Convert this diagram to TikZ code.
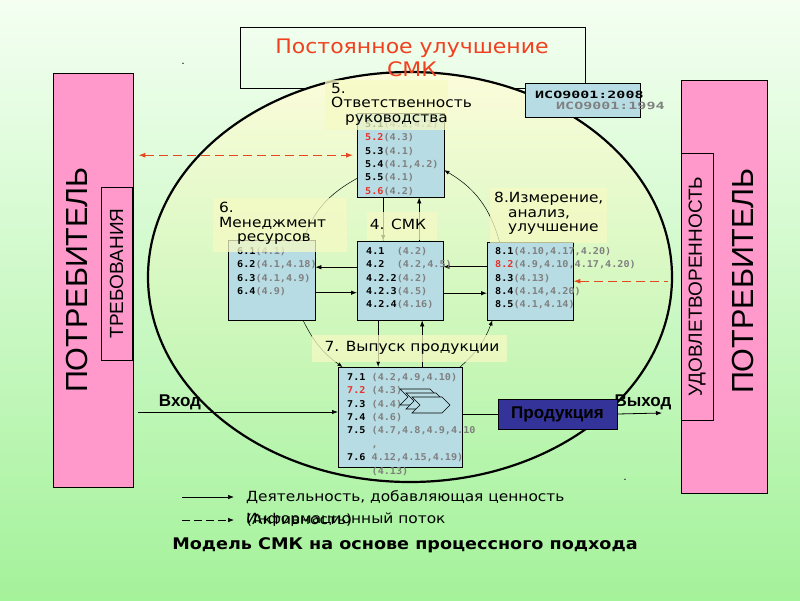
\documentclass[tikz,border=0pt]{standalone}
\usepackage{fontspec}
\setmainfont{DejaVu Sans}[FakeStretch=1.1]
\newfontfamily\boxfont{DejaVu Sans Mono}[FakeStretch=1.08]
\newfontfamily\isofont{DejaVu Sans Mono}[FakeStretch=1.5]
\newfontfamily\arialfont{Liberation Sans}
\usepackage{tikz}
\usetikzlibrary{positioning, arrows.meta}

\definecolor{bgtop}{RGB}{244,255,242}
\definecolor{bgbot}{RGB}{164,242,154}
\definecolor{elltop}{RGB}{252,252,218}
\definecolor{boxblue}{RGB}{184,220,228}
\definecolor{pinkbox}{RGB}{255,153,204}
\definecolor{tagbg}{RGB}{246,250,196}
\definecolor{flowred}{RGB}{232,72,32}
\definecolor{numred}{RGB}{230,50,40}
\definecolor{refgrey}{RGB}{128,128,128}
\definecolor{prodblue}{RGB}{51,51,153}
\definecolor{titlered}{RGB}{240,64,32}

\newcommand{\qnum}[1]{\textbf{#1}}
\newcommand{\qred}[1]{\textbf{\textcolor{numred}{#1}}}
\newcommand{\qref}[1]{\textbf{\textcolor{refgrey}{#1}}}

\tikzset{
  proc/.style={draw, fill=boxblue, anchor=north west, inner sep=0pt},
  lst/.style={inner sep=0pt, align=left, font=\boxfont\fontsize{9.4}{13.4}\selectfont},
  tag/.style={fill=tagbg, fill opacity=0.75, anchor=north west, inner sep=0pt},
  tagtext/.style={inner sep=0pt, align=left, font=\fontsize{14}{14.5}\selectfont},
  flow/.style={-{Latex[length=6pt,width=4.5pt]}, line width=0.8pt},
  cyc/.style={-{Latex[length=5pt,width=4pt]}, line width=0.5pt},
  info/.style={flowred, line width=1pt, dash pattern=on 9pt off 5pt},
  cust/.style={draw, fill=pinkbox, inner sep=0pt},
  big/.style={rotate=90, inner sep=0pt, font=\arialfont\fontsize{30.5}{30.5}\selectfont},
  side/.style={cust, rotate=90, font=\arialfont\fontsize{19}{19}\selectfont},
  chev/.style={draw, fill=boxblue, line width=0.6pt},
}

\begin{document}
\begin{tikzpicture}[x=1pt, y=-1pt]
  % background
  \shade[top color=bgtop, bottom color=bgbot] (0,0) rectangle (800,600);
  \useasboundingbox (0,0) rectangle (800,600);

  % title box and the big cycle
  \node[draw, anchor=north west, minimum width=345pt, minimum height=61pt] (tbox) at (240,27) {};
  \draw[line width=2.2pt, top color=elltop, bottom color=bgbot!85!white] (410,277) ellipse [x radius=262pt, y radius=205pt];
  \node[text=titlered, align=center, font=\fontsize{20}{23}\selectfont] (ttl) at (412,58) {Постоянное улучшение\\СМК};
  \node[inner sep=0pt] (d1) at (183,64) {.};
  \node[inner sep=0pt] (d2) at (625,480) {.};

  % customers
  \node[cust, anchor=north west, minimum width=80pt, minimum height=414pt] (lp) at (53,73) {};
  \node[big] (lpt) at (77,280) {ПОТРЕБИТЕЛЬ};
  \node[side, minimum width=173pt, minimum height=31pt] (req) at (116.5,273.5) {ТРЕБОВАНИЯ};
  \node[cust, anchor=north west, minimum width=86pt, minimum height=413pt] (rp) at (681,80) {};
  \node[side, minimum width=267pt, minimum height=32pt] (sat) at (697,286.5) {УДОВЛЕТВОРЕННОСТЬ};
  \node[big] (rpt) at (743,281) {ПОТРЕБИТЕЛЬ};

  % processes
  \node[proc, minimum width=87pt, minimum height=84pt] (b5) at (357,113) {};
  \node[proc, minimum width=87pt, minimum height=80pt] (b6) at (228,240) {};
  \node[proc, minimum width=86pt, minimum height=79pt] (b4) at (357,241) {};
  \node[proc, minimum width=86pt, minimum height=78pt] (b8) at (487,242) {};
  \node[proc, minimum width=124pt, minimum height=100pt] (b7) at (338,367) {};

  % inner cycle
  \draw[cyc] (b5.208) to[bend right=20] (b6.52);
  \draw[cyc] (b6.308) to[bend right=14] (b7.139);
  \draw[cyc] (b7.40) to[bend right=14] (b8.226);
  \draw[cyc] (b8.128) to[bend right=22] (b5.341);

  % links between processes
  \draw[flow] ([xshift=-17.5pt]b5.south) -- ([xshift=-17.5pt]b5.south |- b4.north);
  \draw[flow] ([xshift=19pt]b4.north) -- ([xshift=19pt]b4.north |- b5.south);
  \draw[flow] ([yshift=13.5pt]b4.west) -- ([yshift=13.5pt]b4.west -| b6.east);
  \draw[flow] ([yshift=-12.5pt]b6.east) -- ([yshift=-12.5pt]b6.east -| b4.west);
  \draw[flow] ([yshift=14.5pt]b8.west) -- ([yshift=14.5pt]b8.west -| b4.east);
  \draw[flow] ([yshift=-12.5pt]b4.east) -- ([yshift=-12.5pt]b4.east -| b8.west);
  \draw[flow] ([xshift=-22pt]b4.south) -- ([xshift=-22pt]b4.south |- b7.north);
  \draw[flow] ([xshift=22pt]b7.north) -- ([xshift=22pt]b7.north |- b4.south);

  % lists
  \node[lst, below right=7pt and 8pt of b5.north west] (t5) {\qnum{5.1}\qref{(4.1,4.2)}\\\qred{5.2}\qref{(4.3)}\\\qnum{5.3}\qref{(4.1)}\\\qnum{5.4}\qref{(4.1,4.2)}\\\qnum{5.5}\qref{(4.1)}\\\qred{5.6}\qref{(4.2)}};
  \node[lst, below right=7pt and 9pt of b6.north west] (t6) {\qnum{6.1}\qref{(4.1)}\\\qnum{6.2}\qref{(4.1,4.18)}\\\qnum{6.3}\qref{(4.1,4.9)}\\\qnum{6.4}\qref{(4.9)}};
  \node[lst, below right=6pt and 9pt of b4.north west] (t4) {\qnum{4.1}~~\qref{(4.2)}\\\qnum{4.2}~~\qref{(4.2,4.5)}\\\qnum{4.2.2}\qref{(4.2)}\\\qnum{4.2.3}\qref{(4.5)}\\\qnum{4.2.4}\qref{(4.16)}};
  \node[lst, below right=5pt and 8pt of b8.north west] (t8) {\qnum{8.1}\qref{(4.10,4.17,4.20)}\\\qred{8.2}\qref{(4.9,4.10,4.17,4.20)}\\\qnum{8.3}\qref{(4.13)}\\\qnum{8.4}\qref{(4.14,4.20)}\\\qnum{8.5}\qref{(4.1,4.14)}};
  \node[lst, below right=6pt and 9pt of b7.north west] (t7) {\qnum{7.1}~\qref{(4.2,4.9,4.10)}\\\qred{7.2}~\qref{(4.3)}\\\qnum{7.3}~\qref{(4.4)}\\\qnum{7.4}~\qref{(4.6)}\\\qnum{7.5}~\qref{(4.7,4.8,4.9,4.10}\\\hphantom{\qnum{7.5}~}\qref{,}\\\qnum{7.6}~\qref{4.12,4.15,4.19)}\\\hphantom{\qnum{7.6}~}\qref{(4.13)}};
  \foreach \i in {0,1,2}
    \draw[chev, shift={(6*\i,4*\i)}] (400,389) -- ++(30,0) -- ++(8,8) -- ++(-8,8) -- ++(-30,0) -- ++(8,-8) -- cycle;

  % process titles
  \node[tag, minimum width=123pt, minimum height=50pt] (g5) at (325,80) {};
  \node[tagtext, anchor=north west] (l5) at (331,83) {5.\\Ответственность\\\hspace*{14pt}руководства};
  \node[tag, minimum width=134pt, minimum height=54pt] (g6) at (213,198) {};
  \node[tagtext, anchor=north west] (l6) at (219,202) {6.\\Менеджмент\\\hspace*{18pt}ресурсов};
  \node[tag, minimum width=70pt, minimum height=28pt] (g4) at (367,212) {};
  \node[tagtext] (l4) at (398,224) {4. СМК};
  \node[tag, minimum width=117pt, minimum height=55pt] (g8) at (490,188) {};
  \node[tagtext, anchor=north west] (l8) at (494,192) {8.Измерение,\\\hspace*{14pt}анализ,\\\hspace*{14pt}улучшение};
  \node[tag, minimum width=195pt, minimum height=27pt] (g7) at (312,335) {};
  \node[tagtext] (l7) at (412,348) {7. Выпуск продукции};

  % standard
  \node[proc, minimum width=115pt, minimum height=34pt] (iso) at (525,83) {};
  \node[inner sep=0pt, anchor=west, align=left, font=\isofont\bfseries\fontsize{10}{11.5}\selectfont] (isot) at (535,100.5) {ИСО9001:2008\\\hspace*{21pt}\textcolor{refgrey}{ИСО9001:1994}};

  % information flows
  \draw[info, {Latex[length=7pt,width=5pt]}-{Latex[length=7pt,width=5pt]}, shorten <=5pt, shorten >=4pt] (b5.west -| lp.east) -- (b5.west);
  \draw[info, {Latex[length=7pt,width=5pt]}-, shorten >=13pt] (b8.east) -- (b8.east -| rp.west);

  % input and output
  \coordinate (in) at (138,412);
  \coordinate (out) at (662,413);
  \node[font=\arialfont\bfseries\fontsize{17}{17}\selectfont] (lin) at (180,402) {Вход};
  \node[font=\arialfont\bfseries\fontsize{17}{17}\selectfont] (lout) at (643,402) {Выход};
  \node[draw, fill=prodblue, minimum width=119pt, minimum height=30pt, font=\arialfont\bfseries\fontsize{17}{17}\selectfont] (prod) at (557.5,414) {Продукция};
  \draw[flow] (in) -- (in -| b7.west);
  \draw[line width=0.8pt] (b7.east |- prod.west) -- (prod.west);
  \draw[flow] (prod.east) -- (out);

  % legend
  \coordinate (la1) at (182,497);
  \coordinate (la2) at (234,497);
  \coordinate (lb1) at (182,520);
  \coordinate (lb2) at (234,520);
  \draw[flow, line width=0.6pt] (la1) -- (la2);
  \draw[flow, line width=0.6pt, dash pattern=on 8pt off 4pt] (lb1) -- (lb2);
  \node[anchor=west, inner sep=0pt, font=\fontsize{14}{14}\selectfont] (lg1) at (246,497) {Деятельность, добавляющая ценность};
  \node[anchor=west, inner sep=0pt, font=\fontsize{14}{14}\selectfont] (lg2) at (246,520) {Информационный поток};
  \node[anchor=west, inner sep=0pt, font=\fontsize{14}{14}\selectfont] (lg3) at (246,520) {(Активность)};
  \node[font=\bfseries\fontsize{16}{16}\selectfont] (cap) at (405,545) {Модель СМК на основе процессного подхода};
\end{tikzpicture}
\end{document}
